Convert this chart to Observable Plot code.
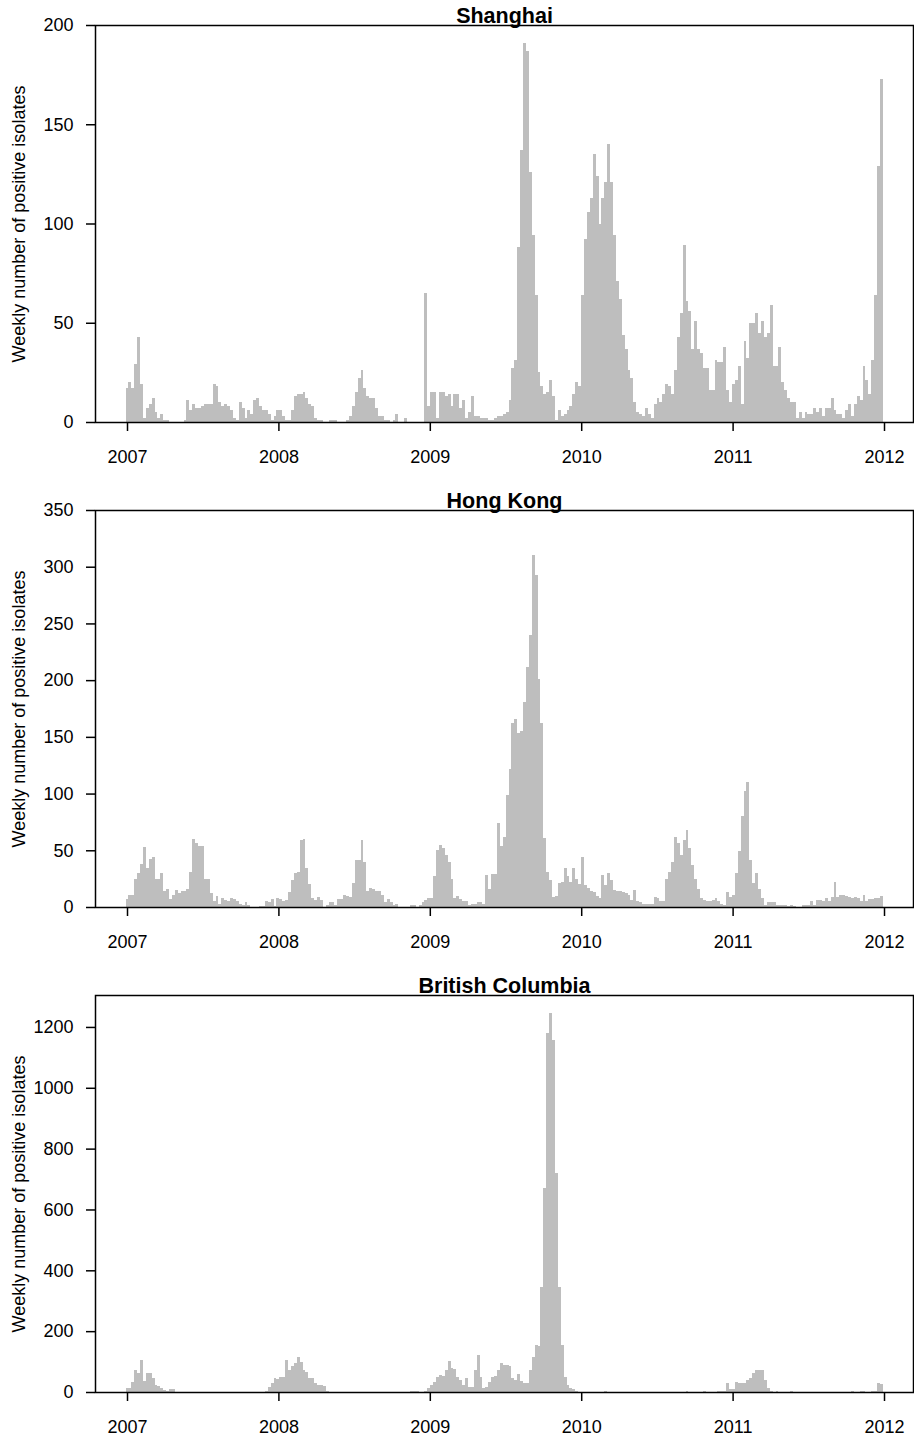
<!DOCTYPE html>
<html>
<head>
<meta charset="utf-8">
<script src="https://cdn.jsdelivr.net/npm/d3@7"></script>
<script src="https://cdn.jsdelivr.net/npm/@observablehq/plot@0.6"></script>
<style>
  body { margin: 0; background: #fff; }
  svg { display: block; }
</style>
</head>
<body>
<div id="chart"></div>
<script>
// ---- data: weekly number of positive isolates, week 1 of 2007 onwards ----
const firstYear = 2007;
const yearTicks = [2007, 2008, 2009, 2010, 2011, 2012];
const yLabel = "Weekly number of positive isolates";
const regionTitles = ["Shanghai", "Hong Kong", "British Columbia"];

const shanghai = [
  // 2007
  17,20,17,29,43,19,2,7,9,12,5,2,4,1,1,0,0,0,0,0,1,11,6,9,7,7,8,9,9,9,19,18,10,8,9,8,6,2,1,10,7,2,6,4,11,12,8,6,6,4,1,3,
  // 2008
  6,6,3,1,1,6,13,14,14,15,12,9,8,2,1,1,0,0,1,1,1,0,0,0,1,3,8,15,22,26,17,13,12,12,7,3,3,1,1,0,1,4,0,0,2,0,0,0,0,0,0,65,
  // 2009
  8,15,15,2,15,15,13,14,8,14,14,7,11,2,5,13,3,3,2,2,2,1,1,2,3,3,4,5,11,27,31,88,137,191,187,126,94,64,25,18,14,15,21,13,1,6,3,4,6,8,14,20,
  // 2010
  18,64,92,106,113,135,124,100,113,121,140,121,94,71,62,44,37,26,22,10,5,4,3,7,4,2,9,12,10,14,19,18,14,26,43,55,89,61,56,37,51,37,35,27,27,16,16,31,30,30,38,16,
  // 2011
  10,19,21,28,9,41,32,50,50,55,45,51,43,45,59,28,28,38,20,16,12,10,10,2,5,2,5,4,4,7,5,7,3,7,7,12,6,4,4,2,6,9,3,9,13,11,28,21,14,31,64,129,173
];

const hongKong = [
  // 2007
  7,11,11,25,30,38,53,34,42,44,25,25,30,14,16,7,11,15,12,14,14,16,31,60,56,54,54,25,25,12,5,10,3,8,6,5,8,7,5,3,2,4,2,0,0,0,1,1,5,4,7,1,
  // 2008
  8,7,5,6,13,24,30,31,59,60,34,20,8,6,9,6,0,2,4,4,2,7,7,11,10,9,21,41,41,59,40,14,17,16,14,14,11,4,7,4,2,3,0,0,0,0,2,2,0,2,4,6,
  // 2009
  8,8,27,50,55,52,46,40,25,8,10,7,5,5,2,3,3,4,4,3,28,16,29,29,74,54,62,99,122,162,166,153,155,181,212,240,310,293,201,162,61,31,24,9,10,21,22,34,27,22,34,25,
  // 2010
  20,44,19,17,14,13,10,8,28,19,30,24,15,14,14,13,12,11,6,15,5,4,3,3,3,3,9,8,5,5,25,31,40,62,56,46,59,68,52,37,25,16,8,6,5,5,6,8,5,3,2,13,
  // 2011
  9,11,30,49,80,102,110,41,21,30,16,8,2,4,4,4,2,2,2,2,1,2,1,0,0,2,2,2,5,2,6,6,5,8,5,9,22,9,11,11,10,9,8,9,8,5,11,5,7,7,8,8,10
];

const britishColumbia = [
  // 2007
  12,14,34,72,61,105,37,64,61,45,23,20,12,7,3,9,9,0,0,0,0,0,0,0,0,0,0,0,0,0,0,0,0,0,0,0,0,0,0,0,0,0,0,0,0,1,1,1,3,15,28,45,
  // 2008
  42,50,48,105,72,85,96,116,100,72,67,45,45,31,23,23,20,3,0,0,0,0,0,0,0,0,0,0,0,0,0,0,0,0,0,0,0,0,0,0,0,0,0,0,0,0,3,3,3,1,1,3,
  // 2009
  12,23,34,50,56,53,72,102,78,75,50,39,23,45,15,15,72,122,50,14,18,34,50,53,72,94,89,89,85,45,39,59,37,31,28,72,116,155,151,346,670,1181,1247,1157,719,346,155,50,23,12,9,3,
  // 2010
  1,0,0,0,0,0,0,0,0,2,0,0,0,0,0,0,0,0,0,0,0,0,0,0,0,0,0,0,0,0,0,0,0,0,0,0,0,2,0,0,0,0,0,2,0,0,0,0,2,2,3,28,
  // 2011
  9,9,34,28,28,28,39,47,61,72,72,72,39,12,3,0,3,0,0,0,0,2,0,0,0,0,0,0,0,0,0,0,0,0,0,0,0,0,0,0,0,0,2,0,0,2,2,0,0,3,2,30,25
];

const yDomains = [[0, 200], [0, 350], [0, 1305]];
const yTickSets = [
  [0, 50, 100, 150, 200],
  [0, 50, 100, 150, 200, 250, 300, 350],
  [0, 200, 400, 600, 800, 1000, 1200]
];
const xDomain = [2006.7886, 2012.1915];

// ---- build ----
const weekYears = 7 / 365.25;
function toWeeks(values) {
  return values.map((v, i) => {
    const t = firstYear + i * weekYears;
    return {x1: t - weekYears / 2, x2: t + weekYears / 2, v};
  });
}

function panel(title, values, yDomain, yTicks) {
  return Plot.plot({
    width: 914,
    height: 485,
    marginTop: 25,
    marginBottom: 63,
    marginLeft: 95,
    marginRight: 1,
    x: {domain: xDomain, axis: null, label: null},
    y: {domain: yDomain, axis: null, label: null},
    style: {fontFamily: "'Liberation Sans', Arial, Helvetica, sans-serif", fontSize: "18px", color: "#000", background: "#fff"},
    marks: [
      Plot.rectY(toWeeks(values), {x1: "x1", x2: "x2", y: "v", fill: "#bebebe", shapeRendering: "crispEdges"}),
      Plot.frame({stroke: "#000", strokeWidth: 1.5}),
      Plot.axisX({ticks: yearTicks, tickSize: 9, tickPadding: 19, tickFormat: d => String(d), strokeWidth: 1.5, fontSize: 18, label: null}),
      Plot.axisY({ticks: yTicks, tickSize: 9, tickPadding: 13, tickFormat: d => String(d), strokeWidth: 1.5, fontSize: 18, label: null}),
      Plot.text([title], {text: d => d, frameAnchor: "top", dy: -3, lineAnchor: "bottom", fontWeight: "bold", fontSize: 21.5}),
      Plot.text([yLabel], {text: d => d, frameAnchor: "left", dx: -76, rotate: -90, textAnchor: "middle", lineAnchor: "middle", fontSize: 18})
    ]
  });
}

const series = [shanghai, hongKong, britishColumbia];
const root = document.getElementById("chart");
series.forEach((vals, k) => {
  root.appendChild(panel(regionTitles[k], vals, yDomains[k], yTickSets[k]));
});
</script>
</body>
</html>
